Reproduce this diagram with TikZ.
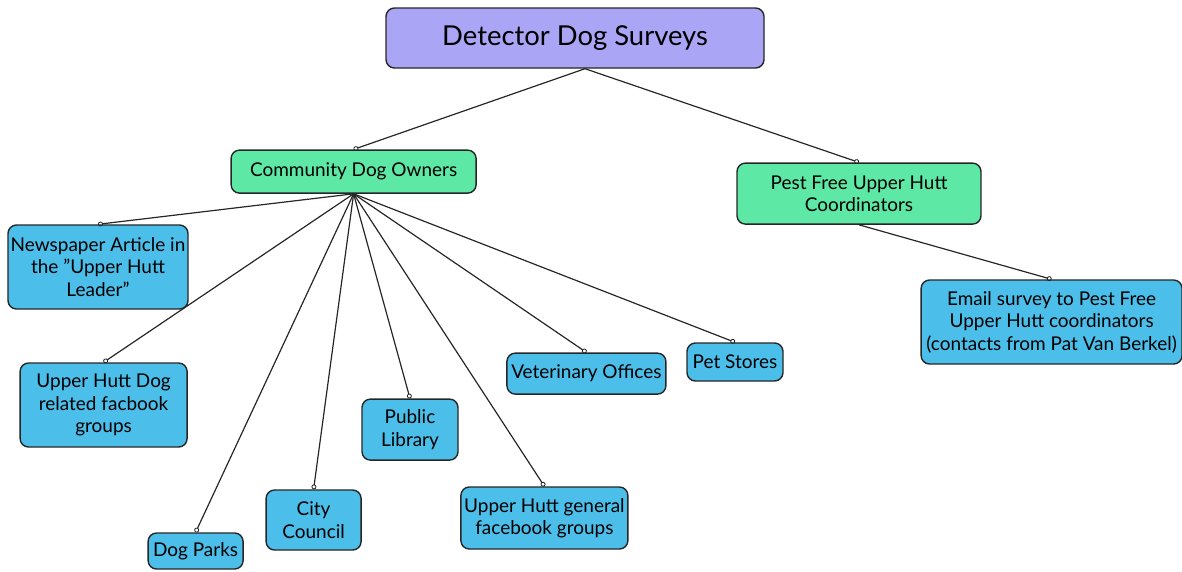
\documentclass[tikz,border=0pt]{standalone}
\usepackage{fontspec}
\setmainfont{Lato}
\usetikzlibrary{arrows.meta,positioning}

\definecolor{topfill}{RGB}{170,165,245}
\definecolor{greenfill}{RGB}{94,232,165}
\definecolor{bluefill}{RGB}{76,190,234}

\tikzset{
  box/.style={draw=black!85, line width=1pt, rounded corners=6pt, align=center,
    inner sep=1pt, font=\fontsize{13.5}{16}\selectfont},
  headbox/.style={box, fill=topfill, font=\fontsize{19.5}{22}\selectfont},
  groupbox/.style={box, fill=greenfill},
  leafbox/.style={box, fill=bluefill},
  link/.style={black!85, line width=0.85pt, -{Circle[open,length=3.5pt,line width=0.6pt]}},
}

\begin{document}
\begin{tikzpicture}
    \useasboundingbox (0,0) rectangle (29.55,-14.275);

    % top and second level
    \node[headbox, minimum width=9.45cm, minimum height=1.5cm] (survey) at (14.375,-0.95) {Detector Dog Surveys};
    \node[groupbox, minimum width=6.125cm, minimum height=1.075cm] (owners) at (8.84,-4.29) {Community Dog Owners};
    \node[groupbox, minimum width=6.1cm, minimum height=1.525cm] (pestfree) at (21.475,-4.84) {Pest Free Upper Hutt\\Coordinators};

    % channels for dog owners
    \node[leafbox, minimum width=4.5cm, minimum height=2.1cm] (paper) at (2.45,-6.675) {Newspaper Article in\\the \symbol{34}Upper Hutt\\Leader\symbol{34}};
    \node[leafbox, minimum width=4.175cm, minimum height=2.1cm] (fbdog) at (2.59,-10.125) {Upper Hutt Dog\\related facbook\\groups};
    \node[leafbox, minimum width=2.375cm, minimum height=0.9cm] (parks) at (4.89,-13.775) {Dog Parks};
    \node[leafbox, minimum width=2.375cm, minimum height=1.5cm] (council) at (7.84,-13.0) {City\\Council};
    \node[leafbox, minimum width=2.4cm, minimum height=1.525cm] (library) at (10.25,-10.74) {Public\\Library};
    \node[leafbox, minimum width=4.175cm, minimum height=1.55cm] (fbgen) at (13.61,-12.95) {Upper Hutt general\\facebook groups};
    \node[leafbox, minimum width=3.975cm, minimum height=1.025cm] (vets) at (14.66,-9.34) {Veterinary Offices};
    \node[leafbox, minimum width=2.4cm, minimum height=0.95cm] (pets) at (18.375,-9.05) {Pet Stores};

    % channel for coordinators
    \node[leafbox, minimum width=6.525cm, minimum height=2.1cm] (email) at (26.29,-8.05) {Email survey to Pest Free\\Upper Hutt coordinators\\(contacts from Pat Van Berkel)};

    \coordinate (hub) at ([xshift=0.25cm]survey.south);
    \draw[link] (hub) -- (owners.north);
    \draw[link] (hub) -- (pestfree.north);

    \foreach \leaf in {paper,fbdog,parks,council,library,fbgen,vets,pets}{
        \draw[link] (owners.south) -- (\leaf.north);
    }
    \draw[link] (pestfree.south) -- (email.north);
\end{tikzpicture}
\end{document}
